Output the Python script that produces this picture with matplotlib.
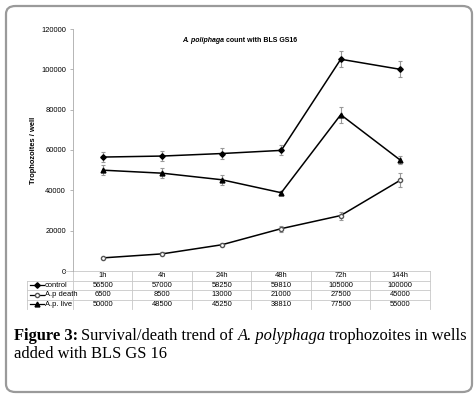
import matplotlib.pyplot as plt
from matplotlib.patches import FancyBboxPatch
from matplotlib.lines import Line2D

times = ['1h', '4h', '24h', '48h', '72h', '144h']
control = [56500, 57000, 58250, 59810, 105000, 100000]
ap_death = [6500, 8500, 13000, 21000, 27500, 45000]
ap_live = [50000, 48500, 45250, 38810, 77500, 55000]
err_control = [2500, 2500, 2500, 2500, 4000, 4000]
err_death = [600, 700, 800, 1500, 2000, 3500]
err_live = [2500, 2500, 2500, 1000, 4000, 2000]
row_names = ['control', 'A.p death', 'A.p. live']

plt.rcParams['font.family'] = ['Liberation Sans', 'DejaVu Sans']

W, H = 477, 398
fig = plt.figure(figsize=(W / 100, H / 100), dpi=100)


def fx(x):
    return x / W


def fy(y):
    return 1 - y / H


# rounded frame round the figure
frame = FancyBboxPatch((fx(6), fy(392)), fx(466), 386 / H,
                       boxstyle='round,pad=0,rounding_size=0.02',
                       transform=fig.transFigure, fill=False,
                       edgecolor='#9a9a9a', linewidth=1.6)
fig.add_artist(frame)

ax = fig.add_axes([fx(73), fy(271), fx(430 - 73), (271 - 29) / H])
x = list(range(len(times)))
styles = [
    (control, err_control, dict(marker='D', markersize=2.8, color='black')),
    (ap_death, err_death, dict(marker='o', markersize=3, color='black',
                               markerfacecolor='white', markeredgecolor='#555555')),
    (ap_live, err_live, dict(marker='^', markersize=3.5, color='black')),
]
for vals, errs, st in styles:
    ax.errorbar(x, vals, yerr=errs, ecolor='#999999', elinewidth=0.8,
                capsize=1.5, capthick=0.8, linewidth=1.1, **st)

fs = 5.4
ax.set_xlim(-0.5, 5.5)
ax.set_ylim(0, 120000)
ax.set_yticks(range(0, 120001, 20000))
ax.tick_params(axis='y', labelsize=fs, length=2, width=0.5, color='#999999', pad=3)
ax.set_xticks([])
for side in ['top', 'right', 'bottom']:
    ax.spines[side].set_visible(False)
ax.spines['left'].set_color('#aaaaaa')
ax.spines['left'].set_linewidth(0.6)
ax.set_ylabel('Trophozoites / well', fontsize=fs, fontweight='bold')
ax.yaxis.set_label_coords(-0.1, 0.5)

# title: italic species name followed by bold text
tt1 = fig.text(fx(182), fy(40), 'A. poliphaga', fontsize=5, fontweight='bold',
               style='italic', va='center')
fig.canvas.draw()
bb = tt1.get_window_extent()
fig.text((bb.x1 + 2) / W, fy(40), 'count with BLS GS16', fontsize=5,
         fontweight='bold', va='center')

# data table under the plot
tr = ax.get_xaxis_transform()
rh = 9.5 / 242
left_x = -0.5 - (73 - 27) / (357 / 6)
gc = '#c8c8c8'
lines = [Line2D([-0.65, 5.5], [0, 0])]
for k in range(1, 4):
    lines.append(Line2D([left_x, 5.5], [-k * rh, -k * rh]))
lines.append(Line2D([left_x, left_x], [-rh, -4 * rh]))
for b in range(len(times) + 1):
    lines.append(Line2D([b - 0.5, b - 0.5], [0, -4 * rh]))
for ln in lines:
    ln.set_transform(tr)
    ln.set_color(gc)
    ln.set_linewidth(0.6)
    ln.set_clip_on(False)
    ax.add_line(ln)

for i, t in enumerate(times):
    ax.text(i, -0.5 * rh, t, transform=tr, ha='center', va='center', fontsize=fs)
for r, (vals, errs, st) in enumerate(styles):
    yc = -(r + 1.5) * rh
    for i, v in enumerate(vals):
        ax.text(i, yc, str(v), transform=tr, ha='center', va='center', fontsize=fs)
    icon = Line2D([left_x + 0.05, left_x + 0.17, left_x + 0.29], [yc, yc, yc],
                  transform=tr, clip_on=False, linewidth=0.9, markevery=[1], **st)
    ax.add_line(icon)
    ax.text(left_x + 0.30, yc, row_names[r], transform=tr, ha='left',
            va='center', fontsize=fs)

# caption
cap_font = 'Liberation Serif'
cs = 11.85
t1 = fig.text(fx(14), fy(336), 'Figure 3:', fontsize=cs, family=cap_font,
              va='center', fontweight='bold')
fig.canvas.draw()
bb = t1.get_window_extent()
t2 = fig.text((bb.x1 + 3) / W, fy(336), 'Survival/death trend of ', fontsize=cs,
              family=cap_font, va='center')
bb = t2.get_window_extent()
t3 = fig.text(bb.x1 / W, fy(336), 'A. polyphaga', fontsize=cs,
              family=cap_font, va='center', style='italic')
bb = t3.get_window_extent()
fig.text((bb.x1 + 3) / W, fy(336), 'trophozoites in wells', fontsize=cs,
         family=cap_font, va='center')
fig.text(fx(14), fy(354), 'added with BLS GS 16', fontsize=cs,
         family=cap_font, va='center')

fig.savefig('out.png', dpi=100)
